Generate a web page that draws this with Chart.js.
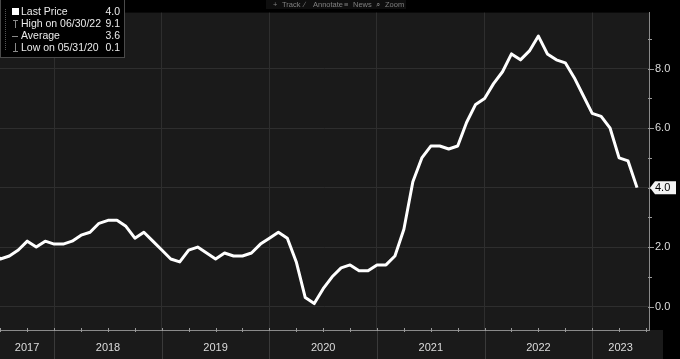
<!DOCTYPE html>
<html><head><meta charset="utf-8">
<script src="https://cdn.jsdelivr.net/npm/chart.js@4/dist/chart.umd.min.js"></script>
<style>
html,body{margin:0;padding:0;background:#000;}
#wrap{width:680px;height:359px;position:relative;}
</style></head>
<body><div id="wrap"><canvas id="c" width="680" height="359"></canvas></div>
<script>
const months = [
 '2017-05','2017-06','2017-07','2017-08','2017-09','2017-10','2017-11','2017-12',
 '2018-01','2018-02','2018-03','2018-04','2018-05','2018-06','2018-07','2018-08','2018-09','2018-10','2018-11','2018-12',
 '2019-01','2019-02','2019-03','2019-04','2019-05','2019-06','2019-07','2019-08','2019-09','2019-10','2019-11','2019-12',
 '2020-01','2020-02','2020-03','2020-04','2020-05','2020-06','2020-07','2020-08','2020-09','2020-10','2020-11','2020-12',
 '2021-01','2021-02','2021-03','2021-04','2021-05','2021-06','2021-07','2021-08','2021-09','2021-10','2021-11','2021-12',
 '2022-01','2022-02','2022-03','2022-04','2022-05','2022-06','2022-07','2022-08','2022-09','2022-10','2022-11','2022-12',
 '2023-01','2023-02','2023-03','2023-04','2023-05'];
const values = [
 1.9,1.6,1.7,1.9,2.2,2.0,2.2,2.1,
 2.1,2.2,2.4,2.5,2.8,2.9,2.9,2.7,2.3,2.5,2.2,1.9,
 1.6,1.5,1.9,2.0,1.8,1.6,1.8,1.7,1.7,1.8,2.1,2.3,
 2.5,2.3,1.5,0.3,0.1,0.6,1.0,1.3,1.4,1.2,1.2,1.4,
 1.4,1.7,2.6,4.2,5.0,5.4,5.4,5.3,5.4,6.2,6.8,7.0,
 7.5,7.9,8.5,8.3,8.6,9.1,8.5,8.3,8.2,7.7,7.1,6.5,
 6.4,6.0,5.0,4.9,4.0];
const yearLabels = ['2017','2018','2019','2020','2021','2022','2023'];
const yTickLabels = ['0.0','2.0','4.0','6.0','8.0'];
const legendRows = [
  ['Last Price','4.0'],
  ['High on 06/30/22','9.1'],
  ['Average','3.6'],
  ['Low on 05/31/20','0.1']
];
const toolbarItems = ['Track','Annotate','News','Zoom'];
const lastValueLabel = '4.0';

// month-end -> fractional year
const points = months.map((m,i)=>{
  const [y,mo]=m.split('-').map(Number);
  return {x: y + mo/12, y: values[i]};
});

const X_MIN = 2017.4963, X_MAX = 2023.528;
const Y_MIN = -0.79, Y_MAX = 9.89;
const FONT = '"Liberation Sans", Arial, sans-serif';

const decor = {
  id:'decor',
  beforeDraw(chart){
    const {ctx, chartArea:a, width, height} = chart;
    ctx.save();
    ctx.fillStyle='#000'; ctx.fillRect(0,0,width,height);
    ctx.fillStyle='#1a1a1a';
    ctx.fillRect(a.left,a.top,a.right-a.left,a.bottom-a.top);
    ctx.fillRect(0,a.bottom,663,height-a.bottom);
    ctx.restore();
  },
  afterDraw(chart){
    const {ctx, chartArea:a, height} = chart;
    const xs = chart.scales.x, ys = chart.scales.y;
    ctx.save();
    ctx.strokeStyle='#8a8a8a'; ctx.lineWidth=1;
    ctx.beginPath(); ctx.moveTo(0,a.bottom+0.5); ctx.lineTo(a.right,a.bottom+0.5); ctx.stroke();
    ctx.strokeStyle='#9a9a9a';
    for(let y=2017;y<=2023;y++){
      for(let q=0;q<4;q++){
        const v=y+q/4; if(v<X_MIN||v>X_MAX) continue;
        const px=Math.round(xs.getPixelForValue(v))+0.5;
        ctx.beginPath(); ctx.moveTo(px,a.bottom-2); ctx.lineTo(px,a.bottom+2); ctx.stroke();
      }
    }
    ctx.strokeStyle='#3a3a3a';
    yearLabels.forEach((lab,i)=>{
      const yr=+lab;
      const x0=Math.max(xs.getPixelForValue(yr), a.left);
      const x1=Math.min(xs.getPixelForValue(yr+1), a.right);
      if(yr+1<X_MAX){
        const px=Math.round(xs.getPixelForValue(yr+1))+0.5;
        ctx.beginPath(); ctx.moveTo(px,a.bottom+1); ctx.lineTo(px,height); ctx.stroke();
      }
      ctx.fillStyle='#dcdcdc'; ctx.font='11px '+FONT;
      ctx.textAlign='center'; ctx.textBaseline='middle';
      ctx.fillText(lab,(x0+x1)/2,348);
    });
    ctx.strokeStyle='#9a9a9a';
    for(let v=0; v<=9; v++){
      const py=Math.round(ys.getPixelForValue(v))+0.5;
      ctx.beginPath(); ctx.moveTo(a.right-1,py); ctx.lineTo(a.right+ (v%2===0?5:3),py); ctx.stroke();
    }
    const lv = values[values.length-1];
    const ty = ys.getPixelForValue(lv);
    ctx.fillStyle='#f2f2f2';
    ctx.beginPath();
    ctx.moveTo(a.right+1,ty);
    ctx.lineTo(a.right+6,ty-6.5);
    ctx.lineTo(a.right+27,ty-6.5);
    ctx.lineTo(a.right+27,ty+6.5);
    ctx.lineTo(a.right+6,ty+6.5);
    ctx.closePath(); ctx.fill();
    ctx.fillStyle='#000'; ctx.font='11px '+FONT; ctx.textAlign='left'; ctx.textBaseline='middle';
    ctx.fillText(lastValueLabel,a.right+6,ty+0.5);

    ctx.fillStyle='#000'; ctx.fillRect(0,0,125,58);
    ctx.strokeStyle='#4a4a4a'; ctx.lineWidth=1; ctx.strokeRect(0.5,-0.5,124,58);
    ctx.fillStyle='#555';
    for(let yy=9; yy<50; yy+=2){ ctx.fillRect(5,yy,1,1); }
    const rowY=[12.5,24.5,36,48];
    ctx.font='10.5px '+FONT; ctx.textBaseline='middle';
    legendRows.forEach((r,i)=>{
      ctx.fillStyle='#eaeaea'; ctx.textAlign='left';
      ctx.fillText(r[0],21,rowY[i]);
      ctx.textAlign='right';
      ctx.fillText(r[1],120,rowY[i]);
    });
    ctx.fillStyle='#ffffff'; ctx.fillRect(12,8,7,7);
    ctx.strokeStyle='#8a8a8a'; ctx.lineWidth=1;
    ctx.beginPath(); ctx.moveTo(13,20.5); ctx.lineTo(18,20.5); ctx.moveTo(15.5,20.5); ctx.lineTo(15.5,28); ctx.stroke();
    ctx.beginPath(); ctx.moveTo(12,36.5); ctx.lineTo(18,36.5); ctx.stroke();
    ctx.beginPath(); ctx.moveTo(15.5,43); ctx.lineTo(15.5,51); ctx.moveTo(13,51.5); ctx.lineTo(18,51.5); ctx.stroke();

    ctx.fillStyle='#0e0e0e'; ctx.fillRect(266,0,140,9);
    ctx.fillStyle='#808080'; ctx.font='7.5px '+FONT; ctx.textAlign='left'; ctx.textBaseline='middle';
    const tx=[282,313,353,385];
    const ic=['+','\u2215','\u2261','\u2315'];
    toolbarItems.forEach((t,i)=>{
      ctx.fillText(ic[i],tx[i]-9,4.5);
      ctx.fillText(t,tx[i],4.5);
    });
    ctx.restore();
  }
};

new Chart(document.getElementById('c'),{
  type:'line',
  data:{datasets:[{data:points,borderColor:'#ffffff',borderWidth:3,pointRadius:0,tension:0,fill:false,borderJoinStyle:'round'}]},
  options:{
    responsive:false, animation:false, devicePixelRatio:1,
    layout:{padding:0},
    plugins:{legend:{display:false},tooltip:{enabled:false}},
    scales:{
      x:{type:'linear',min:X_MIN,max:X_MAX,
        afterFit(s){s.height=29;},
        ticks:{display:false,stepSize:1,includeBounds:false},
        grid:{color:(c)=>Number.isInteger(c.tick.value)?'#2e2e2e':'rgba(0,0,0,0)',drawTicks:false,lineWidth:1},
        border:{display:false}},
      y:{type:'linear',position:'right',min:Y_MIN,max:Y_MAX,
        afterFit(s){s.width=31;},
        ticks:{stepSize:1,includeBounds:false,color:'#dcdcdc',padding:6,
          font:{family:'Liberation Sans, Arial, sans-serif',size:11},
          callback:(v)=>{const i=yTickLabels.indexOf(Number(v).toFixed(1)); return (i>=0)?yTickLabels[i]:'';}},
        grid:{color:(c)=>(c.tick.value%2===0)?'#2e2e2e':'rgba(0,0,0,0)',drawTicks:false,lineWidth:1},
        border:{display:true,color:'#8a8a8a'}}
    }
  },
  plugins:[decor]
});
</script></body></html>
